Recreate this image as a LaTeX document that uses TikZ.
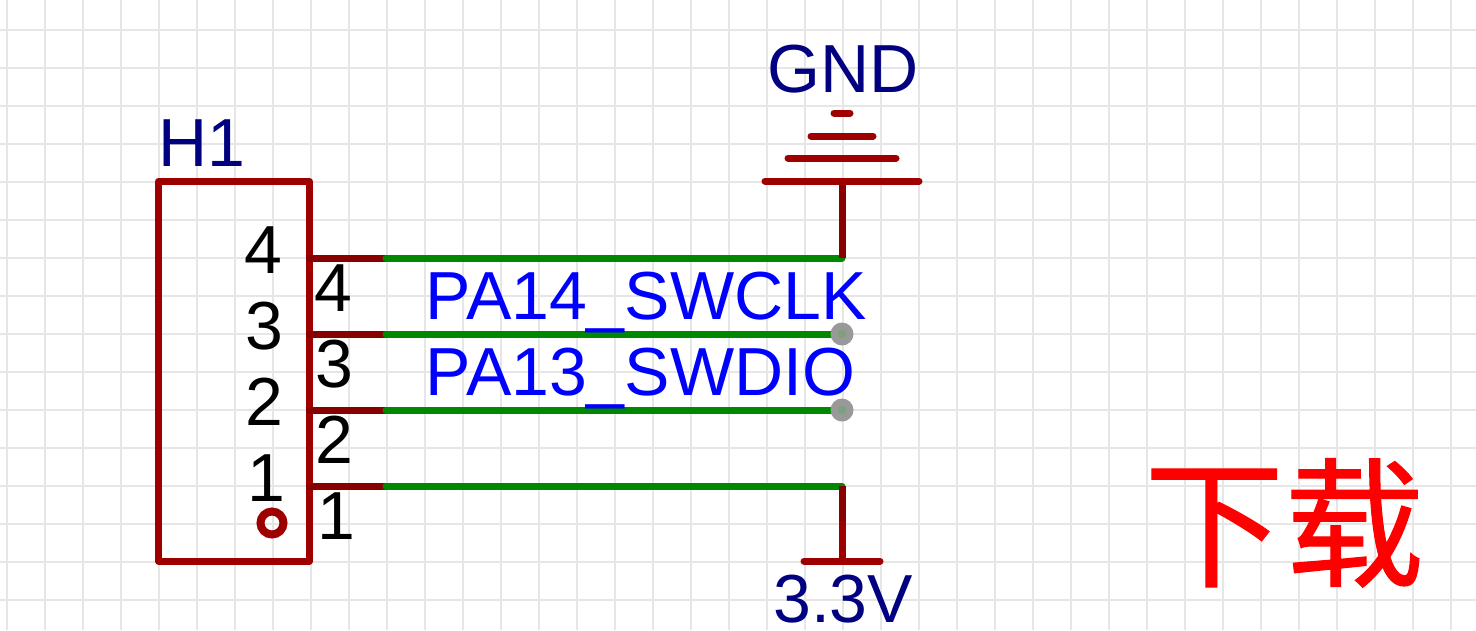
\documentclass[tikz,border=0pt]{standalone}
\usepackage{fontspec}
\setmainfont{Liberation Sans}
\newfontfamily\cjk[AutoFakeBold=0.7]{Noto Sans CJK SC}
\definecolor{gridgray}{HTML}{E6E6E6}
\definecolor{partred}{HTML}{9E0000}
\definecolor{stemred}{HTML}{880000}
\definecolor{wiregreen}{HTML}{008800}
\definecolor{labelnavy}{HTML}{000080}
\definecolor{probegray}{HTML}{999999}
\definecolor{probegreen}{HTML}{7F9F7F}
\tikzset{
  part/.style={draw=partred,line width=7pt,line cap=round,line join=round},
  stem/.style={draw=stemred,line width=7pt},
  wire/.style={draw=wiregreen,line width=7pt,line cap=round},
  txt/.style={inner sep=0pt,anchor=base west,font=\fontsize{68}{68}\selectfont},
  refname/.style={txt,text=labelnavy},
  netname/.style={txt,text=blue},
  probe/.style={circle,fill=probegray,minimum size=23pt,inner sep=0pt}
}
\begin{document}
\begin{tikzpicture}[x=1pt,y=-1pt]
  \useasboundingbox (0,0) rectangle (1476,630);

  % grid
  \foreach \x in {7,45,...,1476}
    \draw[gridgray,line width=2.5pt] (\x,0) -- (\x,630);
  \foreach \y in {30,68,...,630}
    \draw[gridgray,line width=2.5pt] (0,\y) -- (1476,\y);

  % header
  \draw[part] (158.5,181.5) rectangle (309.5,561);
  \node[refname] (h1) at (158,166) {H1};
  \node[circle,draw=partred,line width=8pt,minimum size=23pt,inner sep=0pt] (mark) at (272,523) {};

  % pins and wires
  \foreach \n/\y/\dx in {4/258/244,3/334/245,2/410/245,1/486/247}
  {
    \coordinate (pin\n) at (306,\y);
    \coordinate (end\n) at (386,\y);
    \coordinate (net\n) at (842,\y);
    \draw[stem] (pin\n) -- (end\n);
    \draw[wire] (end\n) -- (net\n);
    \node[txt] (inner\n) at (\dx,\y+15.5) {\n};
    \node[txt] (outer\n) at (\dx+70,\y+53) {\n};
  }

  % gnd
  \coordinate (gndtop) at (842,181);
  \coordinate (gndl) at (765,181);
  \coordinate (gndr) at (919,181);
  \draw[stem] (gndtop) -- (net4);
  \draw[part] (gndl) -- (gndr);
  \draw[part] (788,158) -- (896,158);
  \draw[part] (811,136) -- (873,136);
  \draw[part] (834,113) -- (850,113);
  \node[refname] (gnd) at (767,92) {GND};

  % 3.3V
  \coordinate (vccmid) at (842,521);
  \coordinate (vccbot) at (842,561);
  \coordinate (vccl) at (804,561);
  \coordinate (vccr) at (880,561);
  \draw[stem] (net1) -- (vccmid);
  \draw[draw=partred,line width=7pt] (vccmid) -- (vccbot);
  \draw[part] (vccl) -- (vccr);
  \node[refname] (vcc) at (773,622) {3.3V};

  % nets
  \foreach \n in {3,2}
  {
    \node[probe] (probe\n) at (net\n) {};
    \node[circle,fill=probegreen,minimum size=9pt,inner sep=0pt] (dot\n) at (net\n) {};
  }
  \node[netname] (swclk) at (425.5,319) {PA14\_SWCLK};
  \node[netname] (swdio) at (425.5,395) {PA13\_SWDIO};

  \node[inner sep=0pt,anchor=base west,text=red,font=\cjk\bfseries\fontsize{140}{140}\selectfont] (title) at (1144,576) {下载};
\end{tikzpicture}
\end{document}
